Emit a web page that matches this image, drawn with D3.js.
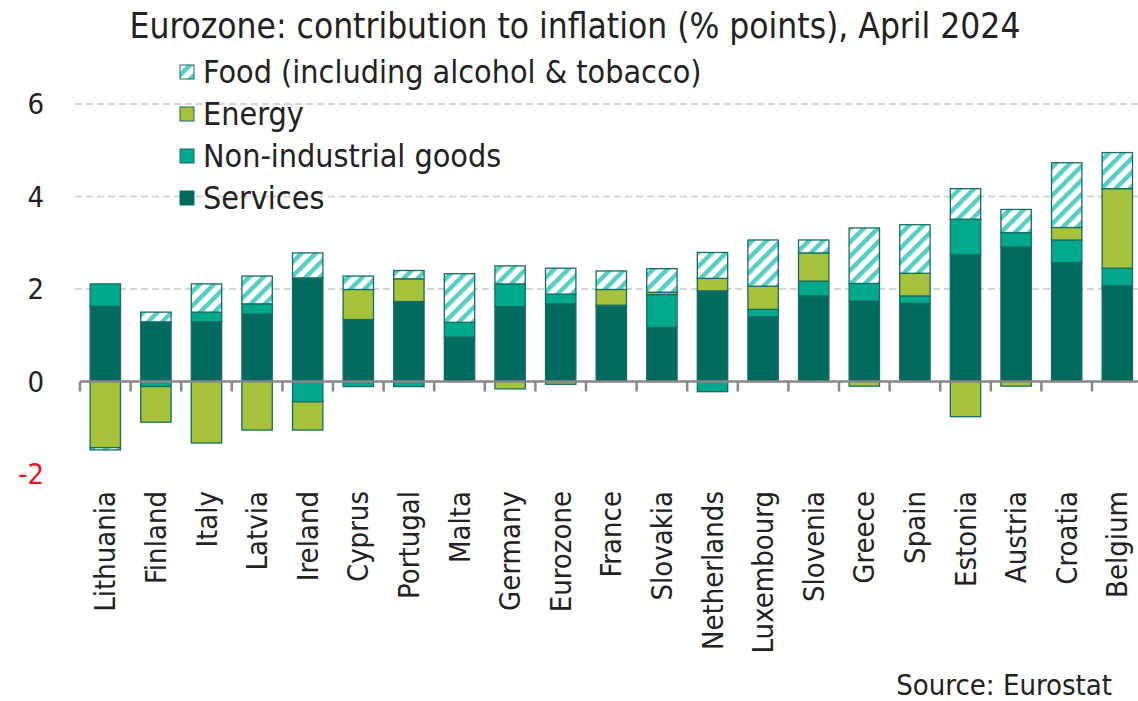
<!DOCTYPE html>
<html>
<head>
<meta charset="utf-8">
<script src="https://cdn.jsdelivr.net/npm/d3@7"></script>
<style>
  body { margin: 0; background: #fff; }
  svg { display: block; }
</style>
</head>
<body>
<div class="svg-container"></div>
<script>
// data (percentage points)
const countries = ["Lithuania", "Finland", "Italy", "Latvia", "Ireland", "Cyprus", "Portugal", "Malta",
  "Germany", "Eurozone", "France", "Slovakia", "Netherlands", "Luxembourg", "Slovenia", "Greece",
  "Spain", "Estonia", "Austria", "Croatia", "Belgium"];
const services = [1.63, 1.29, 1.29, 1.46, 2.24, 1.34, 1.73, 0.96, 1.62, 1.68, 1.63, 1.17, 1.96, 1.40, 1.85, 1.74, 1.69, 2.74, 2.91, 2.57, 2.07];
const nonIndustrial = [0.48, -0.11, 0.21, 0.22, -0.44, -0.11, -0.11, 0.32, 0.49, 0.21, 0.02, 0.71, -0.22, 0.16, 0.32, 0.38, 0.16, 0.77, 0.31, 0.49, 0.38];
const energy = [-1.43, -0.77, -1.33, -1.05, -0.61, 0.65, 0.49, 0, -0.16, -0.06, 0.34, 0.05, 0.27, 0.50, 0.61, -0.10, 0.49, -0.76, -0.10, 0.27, 1.72];
const food = [-0.05, 0.21, 0.61, 0.60, 0.54, 0.29, 0.18, 1.05, 0.39, 0.56, 0.40, 0.51, 0.56, 1.00, 0.28, 1.20, 1.05, 0.66, 0.50, 1.40, 0.78];
const yTicks = [-2, 0, 2, 4, 6];

const seriesKeys = ["services", "nonIndustrial", "energy", "food"];
const seriesNames = {
  food: "Food (including alcohol & tobacco)",
  energy: "Energy",
  nonIndustrial: "Non-industrial goods",
  services: "Services"
};
const seriesColors = {
  services: "#006a5f",
  nonIndustrial: "#00a98c",
  energy: "#a6c33b",
  food: "url(#hatch)"
};

const width = 1138, height = 701;
const fontFam = "'Liberation Sans Narrow', 'DejaVu Sans Condensed', Roboto, sans-serif";

const rows = countries.map((c, i) => ({
  country: c,
  services: services[i],
  nonIndustrial: nonIndustrial[i],
  energy: energy[i],
  food: food[i]
}));

const svg = d3.select(".svg-container")
  .append("svg")
  .attr("width", width)
  .attr("height", height)
  .style("font-family", fontFam);

// hatch pattern for food
const defs = svg.append("defs");
const pat = defs.append("pattern")
  .attr("id", "hatch")
  .attr("patternUnits", "userSpaceOnUse")
  .attr("width", 10)
  .attr("height", 10)
  .attr("patternTransform", "rotate(45)");
pat.append("rect").attr("width", 10).attr("height", 10).attr("fill", "#fff");
pat.append("rect").attr("x", 0).attr("width", 4.5).attr("height", 10).attr("fill", "#55cec6");

const xScale = d3.scaleBand()
  .domain(countries)
  .range([80, 80 + 21 * 50.6])
  .paddingInner(0.4)
  .paddingOuter(0.2);

const yScale = d3.scaleLinear()
  .domain([-2, 6])
  .range([474, 104]);

// grid lines
svg.append("g")
  .selectAll("line")
  .data(yTicks.filter(d => d > 0))
  .enter().append("line")
  .attr("x1", 75)
  .attr("x2", width)
  .attr("y1", d => yScale(d))
  .attr("y2", d => yScale(d))
  .attr("stroke", "#d6d6d6")
  .attr("stroke-width", 2)
  .attr("stroke-dasharray", "7,4");

// y tick labels
svg.append("g")
  .selectAll("text")
  .data(yTicks)
  .enter().append("text")
  .attr("x", 44)
  .attr("y", d => yScale(d))
  .attr("dy", "0.36em")
  .attr("text-anchor", "end")
  .attr("font-size", 29)
  .attr("fill", d => d < 0 ? "#e8141b" : "#222")
  .text(d => d);

// stacked bars
const stack = d3.stack()
  .keys(seriesKeys)
  .offset(d3.stackOffsetDiverging);
const stacked = stack(rows);

const gBars = svg.append("g");
gBars.selectAll("g")
  .data(stacked)
  .enter().append("g")
  .attr("fill", d => seriesColors[d.key])
  .selectAll("rect")
  .data(d => d.filter(s => Math.abs(s[1] - s[0]) > 0.001))
  .enter().append("rect")
  .attr("x", d => xScale(d.data.country))
  .attr("width", xScale.bandwidth())
  .attr("y", d => yScale(Math.max(d[0], d[1])))
  .attr("height", d => Math.abs(yScale(d[0]) - yScale(d[1])))
  .attr("stroke", "#146e62")
  .attr("stroke-width", 1.3);

// zero axis with ticks between categories
const gAxis = svg.append("g");
gAxis.append("line")
  .attr("x1", 80)
  .attr("x2", width)
  .attr("y1", yScale(0))
  .attr("y2", yScale(0))
  .attr("stroke", "#888")
  .attr("stroke-width", 2.5);
gAxis.selectAll(".tk")
  .data(d3.range(countries.length + 1))
  .enter().append("line")
  .attr("class", "tk")
  .attr("x1", i => 80 + i * xScale.step())
  .attr("x2", i => 80 + i * xScale.step())
  .attr("y1", yScale(0))
  .attr("y2", yScale(0) + 10)
  .attr("stroke", "#888")
  .attr("stroke-width", 2.5);

// category labels
svg.append("g")
  .selectAll("text")
  .data(countries)
  .enter().append("text")
  .attr("transform", d => "translate(" + (xScale(d) + xScale.bandwidth() / 2) + ",491) rotate(-90)")
  .attr("dy", "0.35em")
  .attr("text-anchor", "end")
  .attr("font-size", 29)
  .attr("fill", "#222")
  .text(d => d);

// title
svg.append("text")
  .attr("x", 575)
  .attr("y", 38)
  .attr("text-anchor", "middle")
  .attr("font-size", 35)
  .attr("fill", "#222")
  .text("Eurozone: contribution to inflation (% points), April 2024");

// legend
const legendKeys = ["food", "energy", "nonIndustrial", "services"];
const gLeg = svg.append("g");
const legItem = gLeg.selectAll("g")
  .data(legendKeys)
  .enter().append("g")
  .attr("transform", (d, i) => "translate(180," + (72 + i * 42) + ")");
legItem.append("rect")
  .attr("x", 0)
  .attr("y", -7)
  .attr("width", 14)
  .attr("height", 14)
  .attr("fill", d => seriesColors[d])
  .attr("stroke", "#146e62")
  .attr("stroke-width", 1);
legItem.append("text")
  .attr("x", 23)
  .attr("y", 0)
  .attr("dy", "0.35em")
  .attr("font-size", 32)
  .attr("fill", "#222")
  .text(d => seriesNames[d]);

// source
svg.append("text")
  .attr("x", 1112)
  .attr("y", 695)
  .attr("text-anchor", "end")
  .attr("font-size", 29)
  .attr("fill", "#222")
  .text("Source: Eurostat");
</script>
</body>
</html>
